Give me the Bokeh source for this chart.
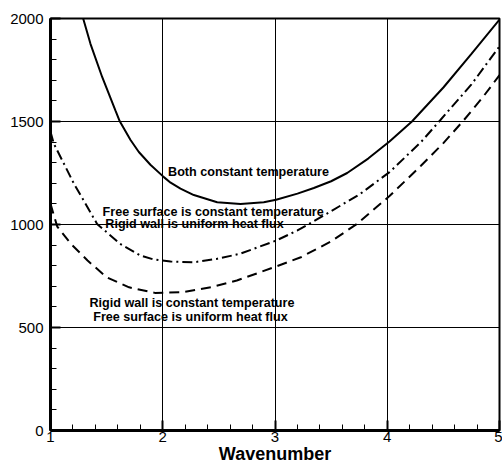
from bokeh.plotting import figure
from bokeh.models import Range1d, FixedTicker
from bokeh.core.properties import value
from bokeh.embed import file_html
from bokeh.resources import INLINE

# Both boundaries constant temperature
both_x = [1.291, 1.356, 1.461, 1.579, 1.617, 1.713, 1.787, 1.89, 2.01, 2.07, 2.158, 2.277, 2.485, 2.693,
          2.9, 3.01, 3.2, 3.346, 3.5, 3.643, 3.83, 4.02, 4.22, 4.5, 4.75, 5.0]
both_y = [2000, 1877, 1715, 1553, 1501, 1410, 1352, 1290, 1230, 1203, 1174, 1143, 1108, 1100,
          1108, 1120, 1150, 1177, 1210, 1250, 1320, 1403, 1500, 1665, 1828, 1995]

# Free surface constant temperature, rigid wall uniform heat flux
fsct_x = [1.0, 1.03, 1.21, 1.415, 1.62, 1.80, 1.92, 2.07, 2.28, 2.48, 2.69, 3.01, 3.2, 3.46, 3.75, 4.02, 4.3, 4.47, 4.75, 5.0]
fsct_y = [1450, 1392, 1197, 1003, 906, 850, 830, 820, 817, 833, 858, 922, 971, 1052, 1145, 1254, 1400, 1505, 1680, 1865]

# Rigid wall constant temperature, free surface uniform heat flux
rwct_x = [1.0, 1.06, 1.18, 1.33, 1.5, 1.7, 1.93, 2.19, 2.43, 2.66, 3.01, 3.23, 3.5, 3.73, 4.02, 4.3, 4.5, 4.68, 4.85, 5.0]
rwct_y = [1100, 990, 907, 825, 744, 695, 668, 672, 696, 728, 796, 841, 918, 1003, 1138, 1285, 1395, 1505, 1617, 1725]

x_ticks = [1, 2, 3, 4, 5]
y_ticks = [0, 500, 1000, 1500, 2000]

FONT = "Liberation Sans"

p = figure(frame_width=449, frame_height=412,
           x_range=Range1d(1, 5), y_range=Range1d(0, 2000),
           output_backend="svg", toolbar_location=None,
           min_border_left=50, min_border_right=3, min_border_top=18, min_border_bottom=30)

p.background_fill_color = "white"
p.border_fill_color = "white"
p.outline_line_color = "black"
p.outline_line_width = 2

for ax in (p.xaxis[0], p.yaxis[0]):
    ax.axis_line_width = 3
    ax.axis_line_color = "black"
    ax.major_tick_in = 10
    ax.major_tick_out = 0
    ax.minor_tick_in = 6
    ax.minor_tick_out = 0
    ax.major_tick_line_width = 2
    ax.minor_tick_line_width = 1
    ax.major_tick_line_color = "black"
    ax.minor_tick_line_color = "black"
    ax.major_label_text_font = FONT
    ax.major_label_text_font_size = "15px"
    ax.major_label_text_color = "black"

p.xaxis.ticker = FixedTicker(ticks=x_ticks, minor_ticks=[1 + 0.2 * i for i in range(21)])
p.yaxis.ticker = FixedTicker(ticks=y_ticks, minor_ticks=list(range(0, 2001, 100)))
p.xaxis.major_label_standoff = 1
p.yaxis.major_label_standoff = 7
p.xaxis.axis_label = "Wavenumber"
p.xaxis.axis_label_text_font = FONT
p.xaxis.axis_label_text_font_style = "bold"
p.xaxis.axis_label_text_font_size = "18px"
p.xaxis.axis_label_text_color = "black"
p.xaxis.axis_label_standoff = -1

p.xgrid.grid_line_color = "black"
p.xgrid.grid_line_width = 1
p.xgrid.grid_line_alpha = 1
p.ygrid.grid_line_color = "black"
p.ygrid.grid_line_width = 1
p.ygrid.grid_line_alpha = 1

p.line(both_x, both_y, line_color="black", line_width=2)
p.line(fsct_x, fsct_y, line_color="black", line_width=2, line_dash="10 4 2 4")
p.line(rwct_x, rwct_y, line_color="black", line_width=2, line_dash="10 6")

labels = [
    ("Both constant temperature", 2.764, 1257),
    ("Free surface is constant temperature", 2.449, 1063),
    ("Rigid wall is uniform heat flux", 2.283, 1003),
    ("Rigid wall is constant temperature", 2.26, 620),
    ("Free surface is uniform heat flux", 2.247, 550),
]
p.text(x=[l[1] for l in labels], y=[l[2] for l in labels], text=[l[0] for l in labels],
       text_font=value(FONT), text_font_style="bold", text_font_size="12.6px",
       text_align="center", text_baseline="middle", text_color="black")

open("out.html", "w").write(file_html(p, INLINE))
